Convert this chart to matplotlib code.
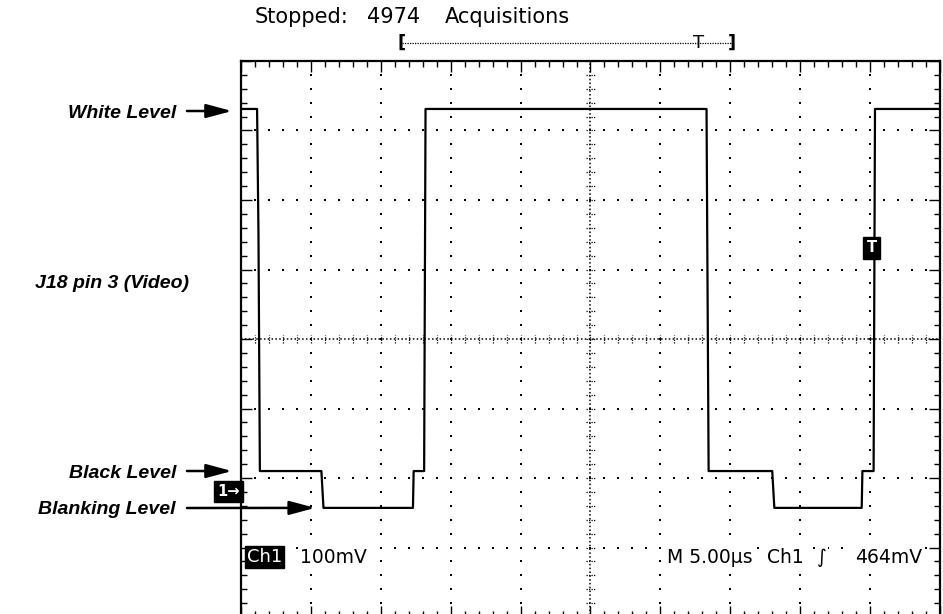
import numpy as np
import matplotlib.pyplot as plt
from matplotlib.ticker import MultipleLocator, NullFormatter

# screen settings: 5 us/div across 10 divisions, 100 mV/div across 8
TIME_PER_DIV = 5.0
VOLT_PER_DIV = 100.0
N_XDIV = 10
N_YDIV = 8

# video line trace (screen-relative mV against time in us)
trace_t = [0.0, 1.15, 1.25, 1.35, 5.75, 5.9, 12.3, 12.35, 13.1, 13.2,
           33.3, 33.35, 33.45, 38.0, 38.15, 44.4, 44.45, 45.25, 45.35, 50.0]
trace_mv = [331, 331, 150, -190, -190, -243, -243, -190, -190, 331,
            331, 150, -190, -190, -243, -243, -190, -190, 331, 331]

# level annotations: label, arrow tip (us, mV), label height (figure px)
level_labels = ["White Level", "Black Level", "Blanking Level"]
level_tip_t = [-0.65, -0.65, 5.3]
level_tip_mv = [328, -190, -243]
level_text_y = [111, 471, 508]

channel_name = "J18 pin 3 (Video)"
acquisitions = 4974
ground_mv = -219
trigger_t = 45.1
trigger_mv = 131
record_start_t = 11.5
record_end_t = 35.1
record_trig_t = 32.7

readout_left = ["Ch1", "100mV"]
readout_right = ["M 5.00µs", "Ch1", "\u222b", "464mV"]
readout_right_t = [30.5, 37.6, 41.2, 43.9]

W, H = 943, 614


def draw_graticule(ax):
    """Dotted division grid with the tick-marked centre cross."""
    xmax = N_XDIV * TIME_PER_DIV
    ymax = N_YDIV / 2 * VOLT_PER_DIV
    sub_t = np.arange(0, xmax + 0.01, TIME_PER_DIV / 5)
    sub_v = np.arange(-ymax, ymax + 0.01, VOLT_PER_DIV / 5)
    dot = dict(ls='', marker='s', ms=1.6, color='black', mew=0)

    for k in range(1, N_XDIV):
        if k == N_XDIV // 2:
            continue
        ax.plot(np.full_like(sub_v, k * TIME_PER_DIV), sub_v, **dot)
    for j in range(-N_YDIV // 2 + 1, N_YDIV // 2):
        if j == 0:
            continue
        ax.plot(sub_t, np.full_like(sub_t, j * VOLT_PER_DIV), **dot)

    # centre cross: fine dotted lines with small cross ticks
    xc = xmax / 2
    ax.plot([xc, xc], [-ymax, ymax], color='black', lw=1.1,
            ls=(0, (1, 1.5)))
    ax.plot([0, xmax], [0, 0], color='black', lw=1.1, ls=(0, (1, 1.5)))
    tick_t = 0.3
    tick_v = 6
    for v in sub_v:
        ax.plot([xc - tick_t, xc + tick_t], [v, v], color='black', lw=0.9,
                ls=(0, (1, 1)))
    for t in sub_t:
        ax.plot([t, t], [-tick_v, tick_v], color='black', lw=0.9,
                ls=(0, (1, 1)))


def px_to_fig(x, y):
    return x / W, 1 - y / H


def main():
    fig = plt.figure(figsize=(W / 100, H / 100), dpi=100)
    left, top, right, bottom = 241, 61, 940, 617
    ax = fig.add_axes([left / W, (H - bottom) / H,
                       (right - left) / W, (bottom - top) / H])
    xmax = N_XDIV * TIME_PER_DIV
    ymax = N_YDIV / 2 * VOLT_PER_DIV
    ax.set_xlim(0, xmax)
    ax.set_ylim(-ymax, ymax)

    for s in ax.spines.values():
        s.set_linewidth(1.6)
    ax.xaxis.set_major_locator(MultipleLocator(TIME_PER_DIV))
    ax.xaxis.set_minor_locator(MultipleLocator(TIME_PER_DIV / 5))
    ax.yaxis.set_major_locator(MultipleLocator(VOLT_PER_DIV))
    ax.yaxis.set_minor_locator(MultipleLocator(VOLT_PER_DIV / 5))
    ax.xaxis.set_major_formatter(NullFormatter())
    ax.yaxis.set_major_formatter(NullFormatter())
    ax.tick_params(which='both', direction='in', top=True, right=True,
                   color='black', width=1.0)
    ax.tick_params(which='major', length=8)
    ax.tick_params(which='minor', length=4)

    draw_graticule(ax)

    ax.plot(trace_t, trace_mv, color='black', lw=1.6, zorder=5)

    # ground reference and trigger level markers
    ax.text(-0.1, ground_mv, "1\u2192", ha='right', va='center',
            color='white', fontsize=10.5, fontweight='bold',
            clip_on=False, zorder=6,
            bbox=dict(boxstyle='square,pad=0.2', fc='black', ec='black'))
    ax.text(trigger_t, trigger_mv, "T", ha='center', va='center',
            color='white', fontsize=10.5, fontweight='bold', zorder=6,
            bbox=dict(boxstyle='square,pad=0.22', fc='black', ec='black'))

    # record position bar above the screen
    bar_mv = 426
    ax.plot([record_start_t, record_end_t], [bar_mv, bar_mv], color='black',
            lw=0.9, ls=(0, (1, 1)), clip_on=False)
    for t, s in [(record_start_t, "["), (record_end_t, "]"),
                 (record_trig_t, "T")]:
        ax.text(t, bar_mv, s, ha='center', va='center', fontsize=13,
                fontweight='bold' if s != "T" else 'normal', clip_on=False)

    # readouts inside the bottom of the screen
    ro_mv = -314
    ax.text(0.45, ro_mv, readout_left[0], ha='left', va='center',
            color='white', fontsize=13, zorder=6,
            bbox=dict(boxstyle='square,pad=0.1', fc='black', ec='black'))
    ax.text(4.2, ro_mv, readout_left[1], ha='left', va='center',
            fontsize=13.5, zorder=6,
            bbox=dict(boxstyle='square,pad=0.05', fc='white', ec='none'))
    for t, s in zip(readout_right_t, readout_right):
        ax.text(t, ro_mv, s, ha='left', va='center', fontsize=13.5,
                zorder=6, bbox=dict(boxstyle='square,pad=0.05',
                                    fc='white', ec='none'))

    # status line
    for x, s in [(255, "Stopped:"), (367, str(acquisitions)),
                 (445, "Acquisitions")]:
        fig.text(*px_to_fig(x, 17), s, ha='left', va='center',
                 fontsize=15)

    # level labels with arrows
    label_font = dict(family='Liberation Sans', fontsize=14,
                      fontweight='bold', style='italic')
    for lab, tt, mv, ypx in zip(level_labels, level_tip_t, level_tip_mv,
                                level_text_y):
        fig.text(*px_to_fig(176, ypx + 2), lab, ha='right', va='center',
                 **label_font)
        ax.annotate("", xy=(tt, mv), xycoords='data',
                    xytext=px_to_fig(187, ypx),
                    textcoords='figure fraction',
                    arrowprops=dict(arrowstyle='-|>,head_length=1.3,'
                                    'head_width=0.35',
                                    color='black', lw=1.8,
                                    mutation_scale=12,
                                    shrinkA=0, shrinkB=0),
                    annotation_clip=False)
    fig.text(*px_to_fig(35, 283), channel_name, ha='left', va='center',
             **label_font)

    fig.savefig("out.png", dpi=100)


if __name__ == "__main__":
    main()
